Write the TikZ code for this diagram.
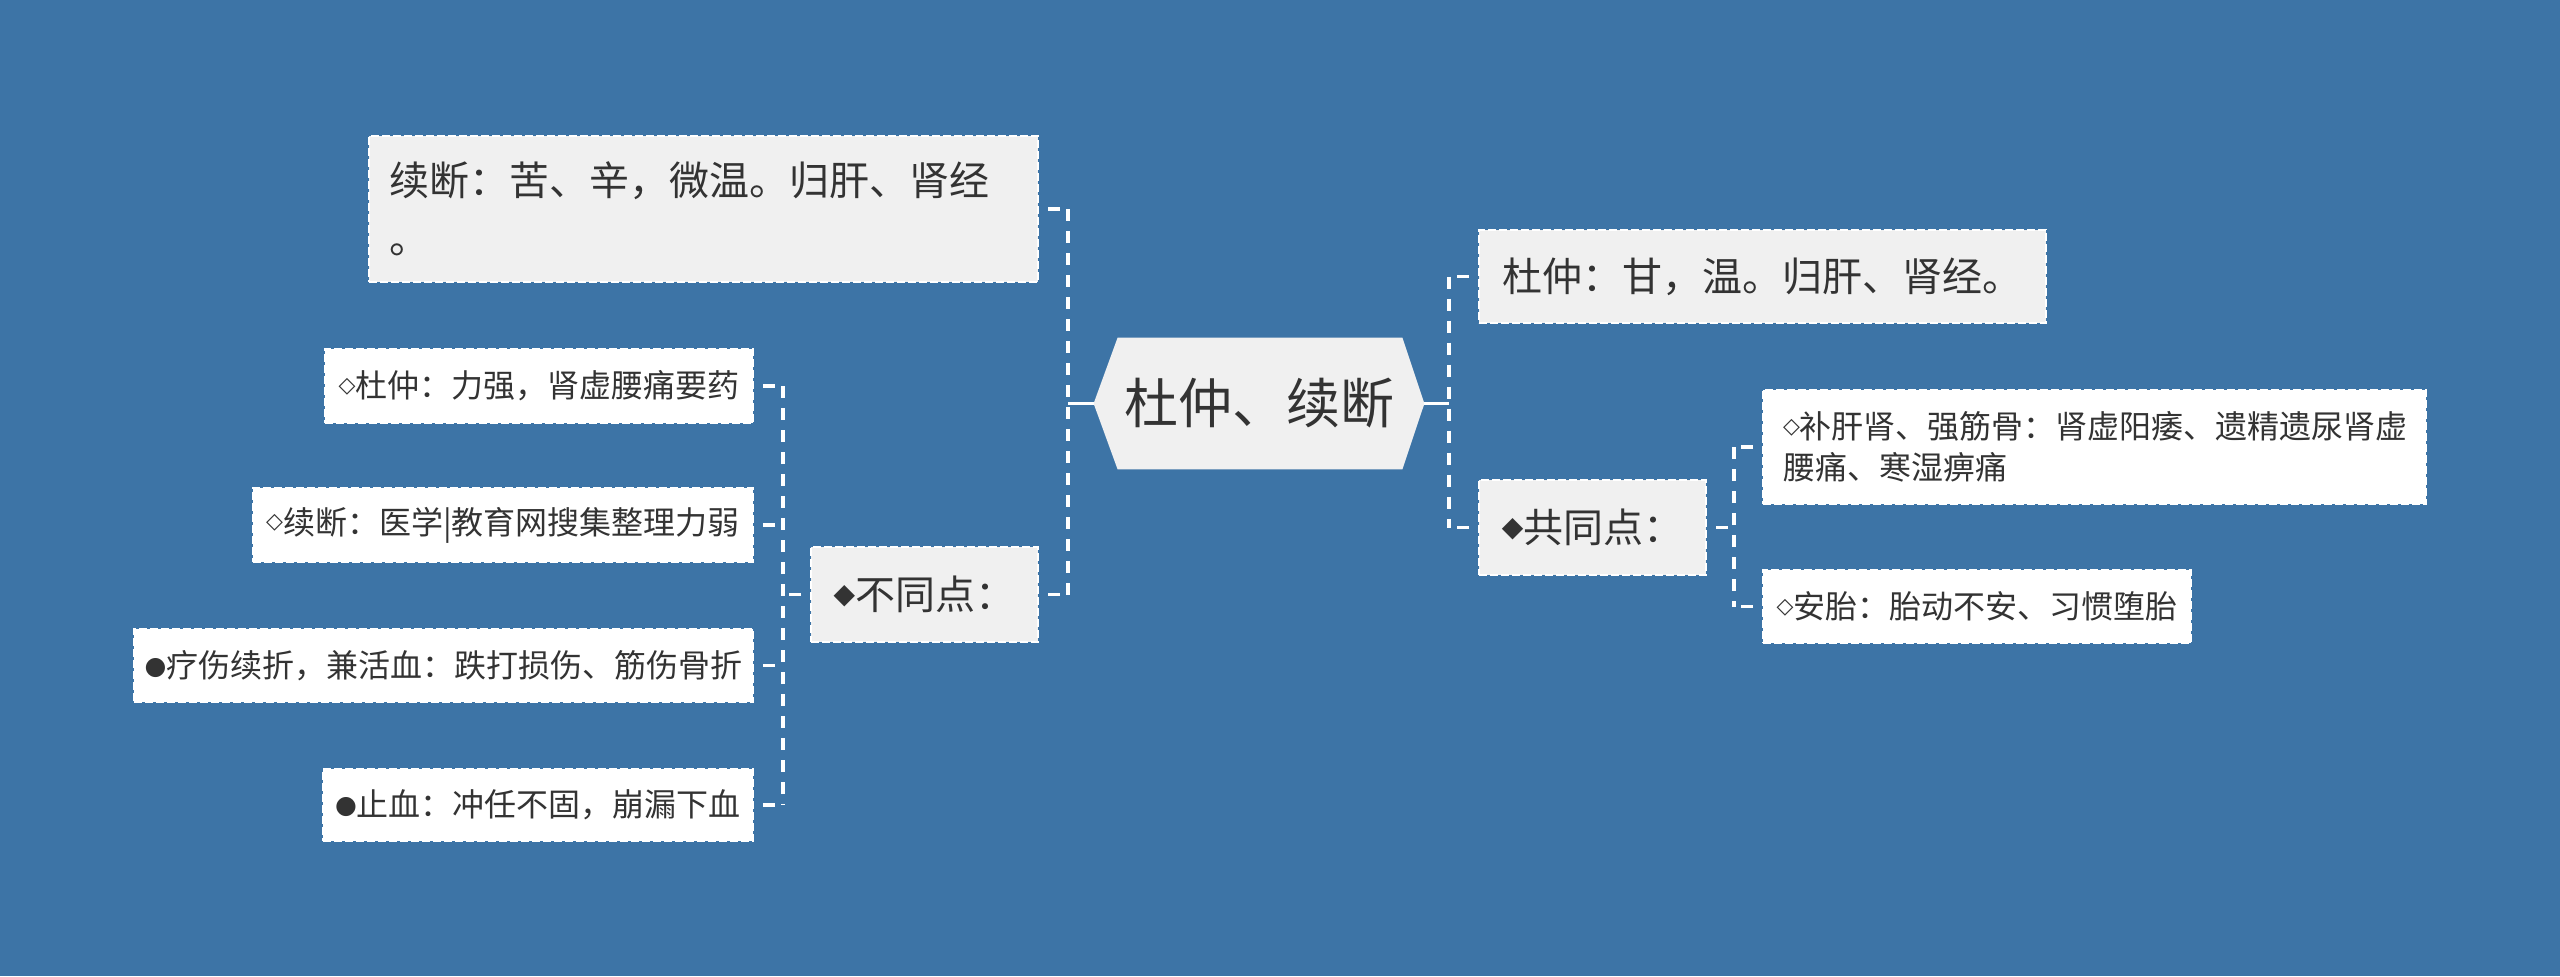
\documentclass[tikz,border=0pt]{standalone}
\usepackage{fontspec}
\setmainfont{Noto Sans CJK SC}
\newfontfamily\symfont{DejaVu Sans}
\usetikzlibrary{backgrounds}
\definecolor{bg}{HTML}{3D74A6}
\definecolor{lt}{HTML}{F0F0F0}
\definecolor{ink}{HTML}{333333}
\newcommand\symA[1]{\raisebox{3pt}{\symfont\fontsize{14pt}{14pt}\selectfont #1}}
\newcommand\symB[1]{\raisebox{2.6pt}{\symfont\fontsize{11pt}{11pt}\selectfont #1}}
\newcommand\symC[1]{\raisebox{1.5pt}{\symfont\fontsize{12.5pt}{12.5pt}\selectfont #1}}
\tikzset{
  box/.style={draw=white, line width=1pt, dash pattern=on 4pt off 1.5pt, text=ink, inner sep=0pt, anchor=center},
  lone/.style={box, fill=lt, font=\fontsize{20pt}{29pt}\selectfont},
  ltwo/.style={box, fill=white, font=\fontsize{16pt}{20.5pt}\selectfont},
  link/.style={draw=white, line width=1.7pt},
  dlink/.style={link, dash pattern=on 6pt off 5pt},
  stub/.style={link, dash pattern=on 6pt off 5pt, dash phase=6.5pt},
}
\begin{document}
\begin{tikzpicture}[x=0.5pt, y=-0.5pt]
\begin{scope}[on background layer]
  \fill[bg] (0,0) rectangle (2560,976);
\end{scope}
\useasboundingbox (0,0) rectangle (2560,976);

% root
\node[text=ink, inner sep=0pt, minimum width=165pt, minimum height=65.5pt, font=\fontsize{27pt}{30pt}\selectfont] (root) at (1259,403.5) {杜仲、续断};
\begin{scope}[on background layer]
  \fill[lt] (root.west) -- ([xshift=12pt]root.north west) -- ([xshift=-11pt]root.north east) -- (root.east) -- ([xshift=-11pt]root.south east) -- ([xshift=12pt]root.south west) -- cycle;
\end{scope}

% level 1
\node[lone, inner xsep=10pt, text width=314.5pt, minimum height=73pt, align=left] (L1) at (703.5,209) {续断：苦、辛，微温。归肝、肾经\\。};
\node[lone, minimum width=113.5pt, minimum height=47.5pt] (L2) at (924.5,594.5) {\symA{◆}不同点：};
\node[lone, minimum width=283.5pt, minimum height=46.5pt] (R1) at (1762.5,276.5) {杜仲：甘，温。归肝、肾经。};
\node[lone, minimum width=113.5pt, minimum height=47.5pt] (R2) at (1592.5,527.5) {\symA{◆}共同点：};

% level 2 left
\node[ltwo, minimum width=214pt, minimum height=37pt] (a1) at (539,386) {\symB{◇}杜仲：力强，肾虚腰痛要药};
\node[ltwo, minimum width=250pt, minimum height=37pt] (a2) at (503,525) {\symB{◇}续断：医学|教育网搜集整理力弱};
\node[ltwo, minimum width=309.5pt, minimum height=36.5pt] (a3) at (443.5,665.5) {\symC{●}疗伤续折，兼活血：跌打损伤、筋伤骨折};
\node[ltwo, minimum width=215pt, minimum height=36pt] (a4) at (538,805) {\symC{●}止血：冲任不固，崩漏下血};

% level 2 right
\node[ltwo, inner xsep=10pt, text width=311.5pt, minimum height=57pt, align=left] (c1) at (2094.5,447) {\symB{◇}补肝肾、强筋骨：肾虚阳痿、遗精遗尿肾虚\\腰痛、寒湿痹痛};
\node[ltwo, minimum width=214pt, minimum height=36.5pt] (c2) at (1977,606.5) {\symB{◇}安胎：胎动不安、习惯堕胎};

% connectors left
\coordinate (lj) at (1068,403.5);
\draw[link] (root.west) -- (lj);
\draw[dlink] (lj |- L1.east) -- (lj |- L2.east);
\draw[stub] (L1.east) -- (lj |- L1.east);
\draw[stub] (L2.east) -- (lj |- L2.east);

\coordinate (lj2) at (783,594.5);
\draw[stub] (L2.west) -- (lj2);
\draw[dlink] (lj2 |- a1.east) -- (lj2 |- a4.east);
\draw[stub] (a1.east) -- (lj2 |- a1.east);
\draw[stub] (a2.east) -- (lj2 |- a2.east);
\draw[stub] (a3.east) -- (lj2 |- a3.east);
\draw[stub] (a4.east) -- (lj2 |- a4.east);

% connectors right
\coordinate (rj) at (1449,403.5);
\draw[link] (root.east) -- (rj);
\draw[dlink] (rj |- R1.west) -- (rj |- R2.west);
\draw[stub] (R1.west) -- (rj |- R1.west);
\draw[stub] (R2.west) -- (rj |- R2.west);

\coordinate (rj2) at (1734,527.5);
\draw[stub] (R2.east) -- (rj2);
\draw[dlink] (rj2 |- c1.west) -- (rj2 |- c2.west);
\draw[stub] (c1.west) -- (rj2 |- c1.west);
\draw[stub] (c2.west) -- (rj2 |- c2.west);
\end{tikzpicture}
\end{document}
